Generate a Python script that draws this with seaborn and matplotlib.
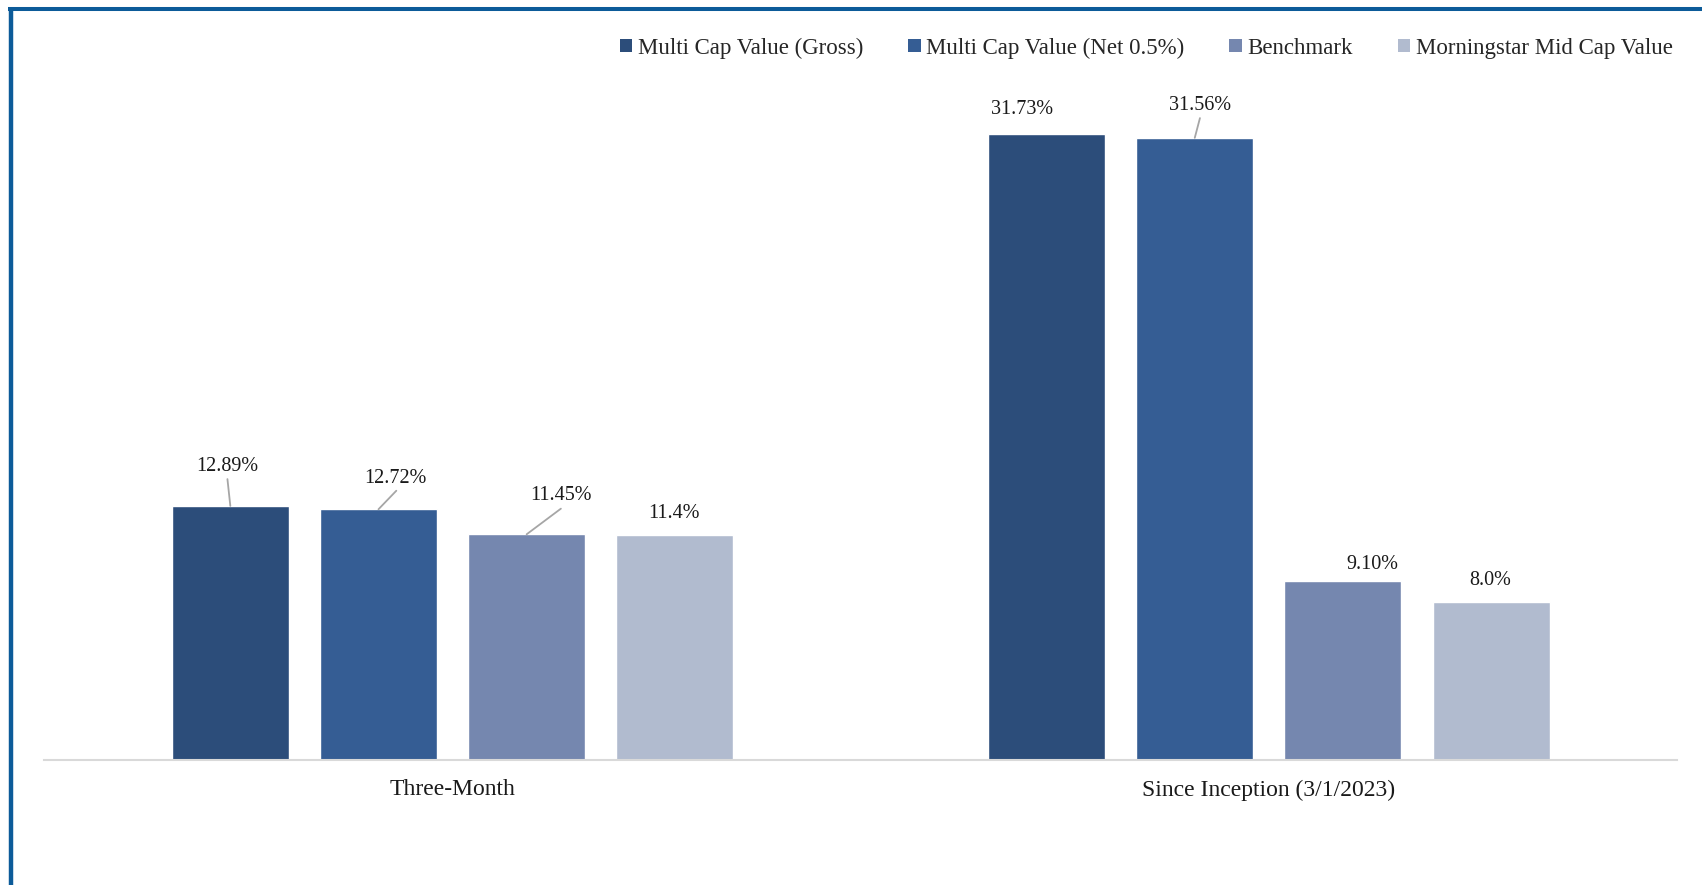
import pandas as pd
import matplotlib.pyplot as plt
import seaborn as sns
from matplotlib.patches import Patch
from matplotlib.lines import Line2D

# data
periods = ["Three-Month", "Since Inception (3/1/2023)"]
series = ["Multi Cap Value (Gross)", "Multi Cap Value (Net 0.5%)", "Benchmark", "Morningstar Mid Cap Value"]
gross = [12.89, 31.73]
net = [12.72, 31.56]
benchmark = [11.45, 9.10]
morningstar = [11.4, 8.0]
label_text = [["12.89%", "31.73%"], ["12.72%", "31.56%"], ["11.45%", "9.10%"], ["11.4%", "8.0%"]]

colors = ["#2C4D7A", "#355D94", "#7587AF", "#B1BBCF"]

rows = []
for name, vals in zip(series, [gross, net, benchmark, morningstar]):
    for p, v in zip(periods, vals):
        rows.append({"period": p, "series": name, "value": v})
df = pd.DataFrame(rows)

sns.set_theme(style="white")
plt.rcParams['font.family'] = ['Liberation Serif', 'DejaVu Serif']

fig = plt.figure(figsize=(17.02, 8.85), dpi=100)
ax = fig.add_axes([0.0261, 0.1412, 0.9592, 0.7797])

sns.barplot(data=df, x="period", y="value", hue="series", hue_order=series,
            palette=colors, width=0.726, gap=0.21, saturation=1, legend=False, ax=ax)

ax.set_xlim(-0.5, 1.5)
ax.set_ylim(0, 35)
ax.set_yticks([])
ax.set_xlabel("")
ax.set_ylabel("")
for s in ["top", "right", "left"]:
    ax.spines[s].set_visible(False)
ax.spines["bottom"].set_color("#D9D9D9")
ax.spines["bottom"].set_linewidth(1.5)
ax.tick_params(axis="x", length=0, pad=14, labelsize=17, colors="#1a1a1a")

# data labels: (text x, text y, leader line top or None)
label_pos = [
    [(-0.2758, 14.91, (-0.2758, 14.25)), (0.6979, 33.0, None)],
    [(-0.0695, 14.27, (-0.0689, 13.66)), (0.9156, 33.22, (0.9156, 32.56))],
    [(0.1324, 13.42, (0.1327, 12.75)), (1.1263, 9.91, None)],
    [(0.2713, 12.50, None), (1.2713, 9.13, None)],
]
vals_all = [gross, net, benchmark, morningstar]
offsets = [-1.5, -0.5, 0.5, 1.5]
for i in range(4):
    for j in range(2):
        tx, ty, line = label_pos[i][j]
        ax.text(tx, ty, label_text[i][j], ha="center", va="center", fontsize=14.5, color="#1a1a1a")
        if line is not None:
            bx = j + offsets[i] * 0.1815
            ax.plot([line[0], bx], [line[1], vals_all[i][j]], color="#A6A6A6", lw=1.3)

handles = [Patch(facecolor=c, edgecolor="none") for c in colors]
fig.legend(handles, series, loc="center right", bbox_to_anchor=(1673 / 1702, 1 - 48 / 885),
           bbox_transform=fig.transFigure, ncol=4, frameon=False, fontsize=16.5,
           handlelength=0.55, handleheight=0.55, handletextpad=0.25, columnspacing=1.95,
           borderpad=0, borderaxespad=0)

# frame lines
border = "#0C5B99"
fig.add_artist(Line2D([8 / 1702, 1.0], [1 - 9 / 885, 1 - 9 / 885], color=border, lw=2.9,
                      solid_capstyle="butt", transform=fig.transFigure))
fig.add_artist(Line2D([10.5 / 1702, 10.5 / 1702], [0, 1 - 7 / 885], color=border, lw=3.2,
                      solid_capstyle="butt", transform=fig.transFigure))

fig.savefig("out.png", dpi=100)
